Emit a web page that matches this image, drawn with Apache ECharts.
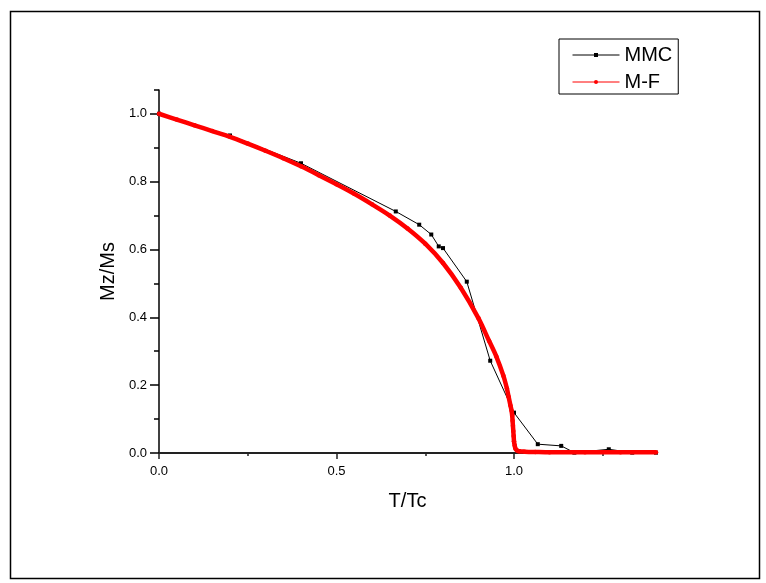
<!DOCTYPE html>
<html>
<head>
<meta charset="utf-8">
<script src="https://cdn.jsdelivr.net/npm/echarts@6/dist/echarts.min.js"></script>
<style>
html,body{margin:0;padding:0;background:#fff;}
#chart{width:766px;height:583px;}
</style>
</head>
<body>
<div id="chart"></div>
<script>
// ---- data ----
var mmcT = [0, 0.2, 0.4, 0.667, 0.733, 0.767, 0.788, 0.8, 0.867, 0.933, 1.0, 1.067, 1.133, 1.17, 1.267, 1.333, 1.4];
var mmcM = [1.0, 0.936, 0.854, 0.712, 0.673, 0.644, 0.609, 0.604, 0.505, 0.272, 0.119, 0.026, 0.021, 0.001, 0.011, 0.001, 0.001];

var mfT = [0, 0.05, 0.1, 0.15, 0.2, 0.25, 0.3, 0.35, 0.4, 0.45, 0.5, 0.55, 0.6, 0.65, 0.7, 0.75, 0.8, 0.85, 0.9, 0.93, 0.95, 0.97, 0.98, 0.985, 0.99, 0.993, 0.995, 0.996, 0.997, 0.998, 0.999, 1.0, 1.002, 1.004, 1.008, 1.015, 1.03, 1.06, 1.1, 1.2, 1.3, 1.4];
var mfM = [1.0, 0.983, 0.966, 0.949, 0.932, 0.912, 0.891, 0.869, 0.845, 0.819, 0.792, 0.764, 0.733, 0.700, 0.662, 0.617, 0.560, 0.487, 0.397, 0.330, 0.285, 0.228, 0.190, 0.165, 0.140, 0.125, 0.110, 0.095, 0.080, 0.065, 0.050, 0.035, 0.022, 0.013, 0.008, 0.005, 0.004, 0.003, 0.002, 0.002, 0.002, 0.002];

var seriesNames = ['MMC', 'M-F'];
var xMajorTicks = [0, 0.5, 1.0];
var xMinorTicks = [0.25, 0.75, 1.25];
var yMajorTicks = [0, 0.2, 0.4, 0.6, 0.8, 1.0];
var yMinorTicks = [0.1, 0.3, 0.5, 0.7, 0.9, 1.07];
var xRange = [0, 1.4];
var yRange = [0, 1.07];

function pairs(xs, ys) {
  var out = [];
  for (var i = 0; i < xs.length; i++) out.push([xs[i], ys[i]]);
  return out;
}

var FONT = '"Liberation Sans", Arial, sans-serif';
var chart = echarts.init(document.getElementById('chart'), null, {renderer: 'canvas'});

var option = {
  backgroundColor: '#ffffff',
  animation: false,
  textStyle: {fontFamily: FONT, color: '#000'},
  grid: {left: 159, right: 110, top: 90, bottom: 130, containLabel: false},
  legend: {
    left: 559, top: 39,
    orient: 'vertical',
    data: seriesNames,
    itemWidth: 47, itemHeight: 5, itemGap: 7,
    padding: [6, 6, 2, 13],
    borderColor: '#000', borderWidth: 1,
    lineStyle: {width: 1},
    textStyle: {fontFamily: FONT, fontSize: 20, lineHeight: 20, color: '#000'}
  },
  xAxis: [{
    type: 'value', min: xRange[0], max: xRange[1], position: 'bottom',
    axisLine: {show: true, lineStyle: {color: '#222', width: 2}},
    axisTick: {show: true, customValues: xMajorTicks, length: 6, lineStyle: {color: '#222', width: 1.5}},
    axisLabel: {customValues: xMajorTicks, margin: 12, fontSize: 13, color: '#000', fontFamily: FONT,
      formatter: function (v) { return v.toFixed(1); }},
    splitLine: {show: false},
    name: 'T/Tc', nameLocation: 'middle', nameGap: 38,
    nameTextStyle: {fontSize: 20, color: '#000', fontFamily: FONT}
  }, {
    type: 'value', min: xRange[0], max: xRange[1], position: 'bottom',
    axisLine: {show: false},
    axisTick: {show: true, customValues: xMinorTicks, length: 3, lineStyle: {color: '#222', width: 1.5}},
    axisLabel: {show: false},
    splitLine: {show: false}
  }],
  yAxis: [{
    type: 'value', min: yRange[0], max: yRange[1], position: 'left',
    axisLine: {show: true, lineStyle: {color: '#000', width: 1.5}},
    axisTick: {show: true, customValues: yMajorTicks, length: 9, lineStyle: {color: '#000', width: 1.5}},
    axisLabel: {customValues: yMajorTicks, margin: 12, fontSize: 13, color: '#000', fontFamily: FONT,
      formatter: function (v) { return v.toFixed(1); }},
    splitLine: {show: false},
    name: 'Mz/Ms', nameLocation: 'middle', nameGap: 41,
    nameTextStyle: {fontSize: 20, color: '#000', fontFamily: FONT}
  }, {
    type: 'value', min: yRange[0], max: yRange[1], position: 'left',
    axisLine: {show: false},
    axisTick: {show: true, customValues: yMinorTicks, length: 5, lineStyle: {color: '#000', width: 1.5}},
    axisLabel: {show: false},
    splitLine: {show: false}
  }],
  series: [{
    name: seriesNames[0], type: 'line', xAxisIndex: 0, yAxisIndex: 0,
    data: pairs(mmcT, mmcM),
    symbol: 'rect', symbolSize: 4,
    lineStyle: {color: '#000', width: 1},
    itemStyle: {color: '#000'},
    z: 2
  }, {
    name: seriesNames[1], type: 'line', xAxisIndex: 0, yAxisIndex: 0,
    data: pairs(mfT, mfM),
    smooth: 0.3,
    symbol: 'circle', symbolSize: 4.5,
    lineStyle: {color: '#ff0000', width: 4.5},
    itemStyle: {color: '#ff0000'},
    z: 3
  }],
  graphic: [{
    type: 'rect', left: 8, top: 9, silent: true,
    shape: {x: 0, y: 0, width: 749, height: 567},
    style: {fill: 'none', stroke: '#000', lineWidth: 1.5},
    z: 100
  }]
};
chart.setOption(option);
</script>
</body>
</html>
